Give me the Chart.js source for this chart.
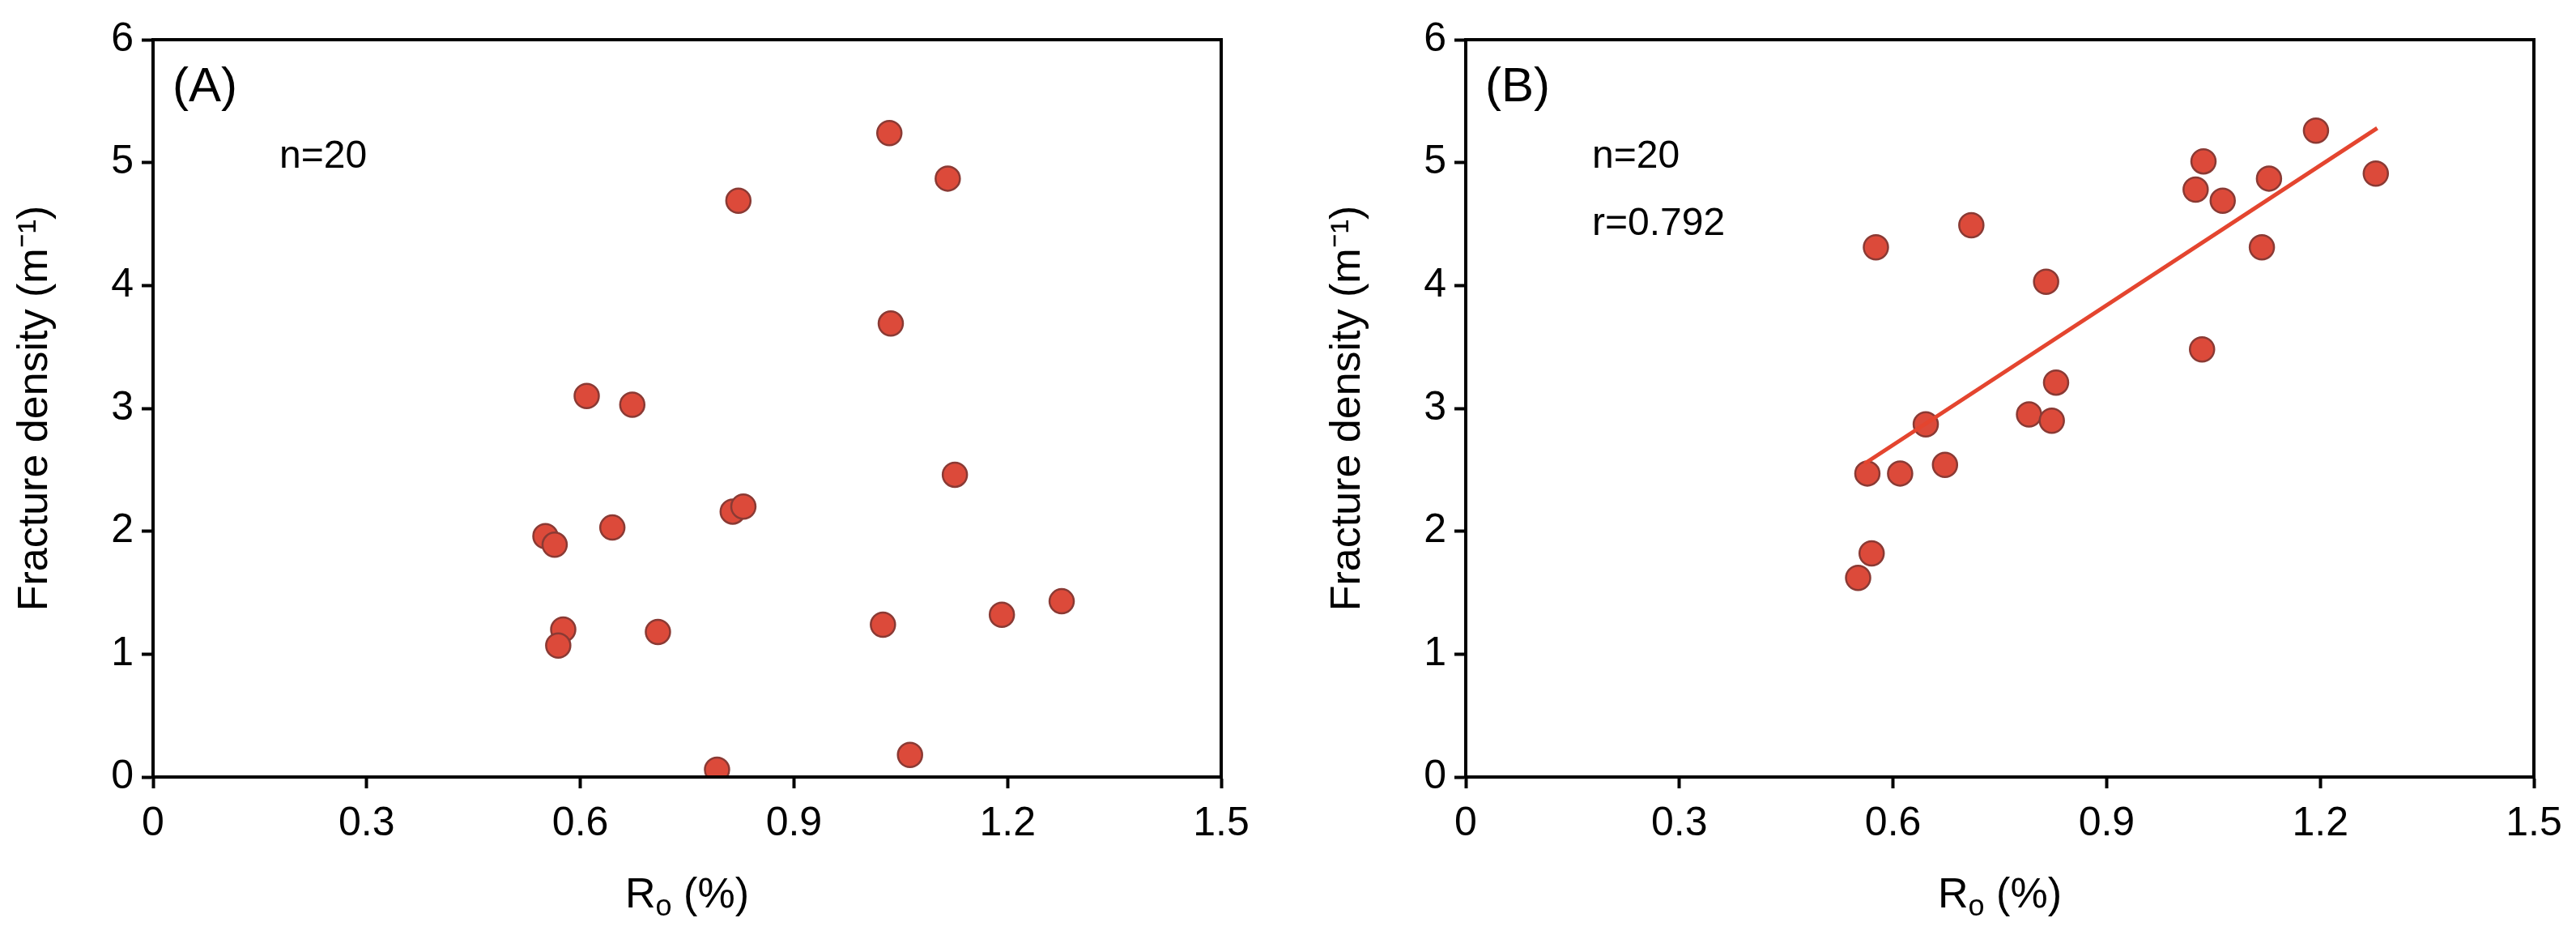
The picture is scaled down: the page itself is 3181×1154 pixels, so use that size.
<!DOCTYPE html>
<html>
<head>
<meta charset="utf-8">
<title>Fracture density vs Ro</title>
<script src="https://cdn.jsdelivr.net/npm/chart.js@4.4.1/dist/chart.umd.min.js"></script>
<style>
    html, body { margin: 0; padding: 0; background: #ffffff; }
    body { width: 3181px; height: 1154px; position: relative; overflow: hidden; }
    .panel { position: absolute; top: 0; width: 1560px; height: 1154px; }
    #panelA { left: 0; }
    #panelB { left: 1621px; }
</style>
</head>
<body>
<div class="panel" id="panelA"><canvas id="chartA"></canvas></div>
<div class="panel" id="panelB"><canvas id="chartB"></canvas></div>

<script>
// Axis ticks
const xTickValues = [0, 0.3, 0.6, 0.9, 1.2, 1.5];
const xTickLabels = ['0', '0.3', '0.6', '0.9', '1.2', '1.5'];
const yTickValues = [0, 1, 2, 3, 4, 5, 6];
const yTickLabels = ['0', '1', '2', '3', '4', '5', '6'];

// Panel A - Ro (%) vs fracture density
const roA = [0.551, 0.564, 0.576, 0.569, 0.609, 0.673, 0.645, 0.709, 0.792, 0.814,
             0.829, 0.822, 1.034, 1.036, 1.025, 1.063, 1.116, 1.126, 1.192, 1.276];
const densityA = [1.96, 1.89, 1.20, 1.07, 3.10, 3.03, 2.03, 1.18, 0.06, 2.16,
                  2.20, 4.69, 5.24, 3.69, 1.24, 0.18, 4.87, 2.46, 1.32, 1.43];

// Panel B - Ro (%) vs fracture density
const roB = [0.551, 0.570, 0.564, 0.576, 0.610, 0.646, 0.673, 0.710, 0.791, 0.823,
             0.829, 0.815, 1.034, 1.025, 1.036, 1.063, 1.118, 1.128, 1.194, 1.278];
const densityB = [1.62, 1.82, 2.47, 4.31, 2.47, 2.87, 2.54, 4.49, 2.95, 2.90,
                  3.21, 4.03, 3.48, 4.78, 5.01, 4.69, 4.31, 4.87, 5.26, 4.91];

// Panel B regression line end points
const trendRoB = [0.56, 1.28];
const trendDensityB = [2.55, 5.28];

// Annotations
const panelTags = ['(A)', '(B)'];
const statsA = ['n=20'];
const statsB = ['n=20', 'r=0.792'];

const FONT = "'Liberation Sans', Arial, sans-serif";
const POINT_FILL = '#dc4a3a';
const POINT_EDGE = '#8a3a34';
const TREND_COLOR = '#e4452f';

/**
 * Draws the closed frame, the x title (with subscript) and the panel annotations
 */
const annotationPlugin = {
    id: 'panelAnnotations',
    afterDraw(chart, args, opts) {
        const { ctx, chartArea: a } = chart;
        ctx.save();

        // closed box round the plot area
        ctx.strokeStyle = '#000';
        ctx.lineWidth = 4;
        ctx.strokeRect(a.left, a.top, a.right - a.left, a.bottom - a.top);

        ctx.fillStyle = '#000';
        ctx.textAlign = 'left';
        ctx.textBaseline = 'alphabetic';

        ctx.font = `60px ${FONT}`;
        ctx.fillText(opts.tag, a.left + 24, a.top + 76);

        ctx.font = `48px ${FONT}`;
        opts.stats.forEach((line, i) => {
            ctx.fillText(line, a.left + 156, a.top + 158 + i * 83);
        });

        // x axis title: R, subscript o, then (%)
        const big = `52px ${FONT}`;
        const small = `36px ${FONT}`;
        const parts = [['R', big, 0], ['o', small, 10], [' (%)', big, 0]];
        let total = 0;
        parts.forEach(([t, f]) => { ctx.font = f; total += ctx.measureText(t).width; });
        let x = (a.left + a.right) / 2 - total / 2;
        const baseY = a.bottom + 161;
        parts.forEach(([t, f, dy]) => {
            ctx.font = f;
            ctx.fillText(t, x, baseY + dy);
            x += ctx.measureText(t).width;
        });
        ctx.restore();
    }
};

/**
 * Build one scatter panel
 */
function makePanel(canvasId, ro, density, tag, stats, trend) {
    const datasets = [];

    if (trend) {
        datasets.push({
            type: 'line',
            data: trend.x.map((x, i) => ({ x: x, y: trend.y[i] })),
            borderColor: TREND_COLOR,
            borderWidth: 5,
            pointRadius: 0,
            fill: false
        });
    }

    datasets.push({
        type: 'scatter',
        data: ro.map((x, i) => ({ x: x, y: density[i] })),
        backgroundColor: POINT_FILL,
        borderColor: POINT_EDGE,
        borderWidth: 2.5,
        pointRadius: 15
    });

    return new Chart(document.getElementById(canvasId), {
        type: 'scatter',
        data: { datasets: datasets },
        options: {
            responsive: true,
            maintainAspectRatio: false,
            animation: false,
            layout: { padding: { top: 49, right: 52, left: 0, bottom: 0 } },
            plugins: {
                legend: { display: false },
                tooltip: { enabled: false },
                panelAnnotations: { tag: tag, stats: stats }
            },
            scales: {
                x: {
                    type: 'linear',
                    min: 0,
                    max: 1.5,
                    afterBuildTicks: (scale) => {
                        scale.ticks = xTickValues.map(v => ({ value: v }));
                    },
                    afterFit: (scale) => { scale.height = 195; },
                    ticks: {
                        color: '#000',
                        font: { family: FONT, size: 50 },
                        padding: 14,
                        maxRotation: 0,
                        callback: (value, index) => xTickLabels[index]
                    },
                    grid: {
                        drawOnChartArea: false,
                        drawTicks: true,
                        tickLength: 14,
                        tickWidth: 4,
                        tickColor: '#000'
                    },
                    border: { display: true, color: '#000', width: 4 },
                    title: { display: false, text: 'Ro (%)' }
                },
                y: {
                    type: 'linear',
                    min: 0,
                    max: 6,
                    afterBuildTicks: (scale) => {
                        scale.ticks = yTickValues.map(v => ({ value: v }));
                    },
                    afterFit: (scale) => { scale.width = 189; },
                    ticks: {
                        color: '#000',
                        font: { family: FONT, size: 50 },
                        padding: 10,
                        callback: (value, index) => yTickLabels[index]
                    },
                    grid: {
                        drawOnChartArea: false,
                        drawTicks: true,
                        tickLength: 14,
                        tickWidth: 4,
                        tickColor: '#000'
                    },
                    border: { display: true, color: '#000', width: 4 },
                    title: {
                        display: true,
                        text: 'Fracture density (m⁻¹)',
                        color: '#000',
                        font: { family: FONT, size: 52 },
                        padding: { top: 12, bottom: 0 }
                    }
                }
            }
        },
        plugins: [annotationPlugin]
    });
}

makePanel('chartA', roA, densityA, panelTags[0], statsA, null);
makePanel('chartB', roB, densityB, panelTags[1], statsB, { x: trendRoB, y: trendDensityB });
</script>
</body>
</html>
